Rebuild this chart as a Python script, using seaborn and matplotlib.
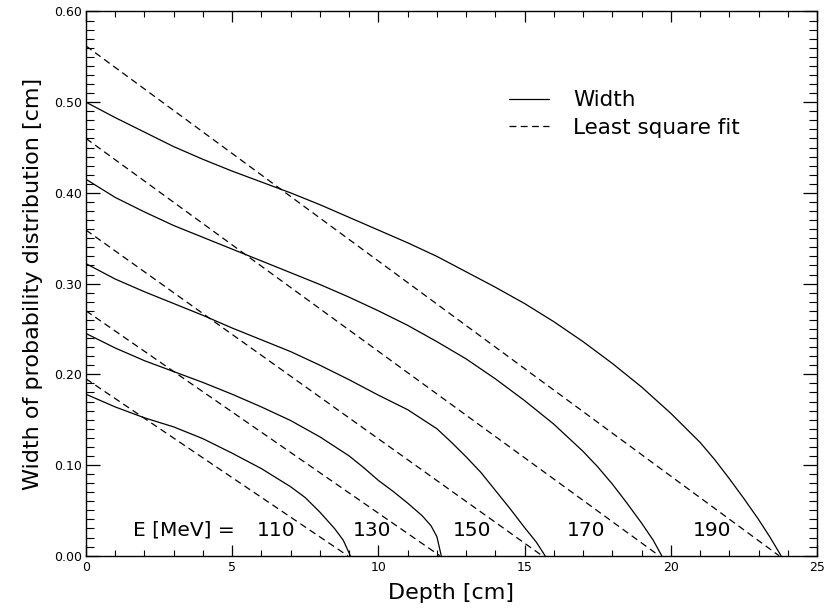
import matplotlib
matplotlib.use("Agg")
import matplotlib.pyplot as plt
from matplotlib.lines import Line2D
from matplotlib.ticker import MultipleLocator, FormatStrFormatter
import seaborn as sns
import pandas as pd

# beam energies [MeV]
energies = [110, 130, 150, 170, 190]

# width of the probability distribution along depth, one curve per energy
depth_110 = [0, 1, 2, 3, 4, 5, 6, 7, 7.5, 8, 8.5, 8.8, 9.04]
width_110 = [0.178, 0.164, 0.152, 0.142, 0.129, 0.113, 0.096, 0.076, 0.064, 0.048, 0.030,
             0.017, 0.0]

depth_130 = [0, 1, 2, 3, 4, 5, 6, 7, 8, 9, 9.5, 10, 10.5, 11, 11.5, 11.8, 12.0, 12.15]
width_130 = [0.245, 0.229, 0.215, 0.203, 0.191, 0.178, 0.164, 0.149, 0.131, 0.110, 0.097,
             0.083, 0.071, 0.058, 0.044, 0.033, 0.021, 0.0]

depth_150 = [0, 1, 2, 3, 4, 5, 6, 7, 8, 9, 10, 11, 12, 12.5, 13, 13.5, 14, 14.5, 15, 15.4, 15.7]
width_150 = [0.322, 0.305, 0.291, 0.278, 0.265, 0.251, 0.238, 0.225, 0.210, 0.194, 0.177,
             0.161, 0.140, 0.125, 0.109, 0.092, 0.072, 0.052, 0.031, 0.015, 0.0]

depth_170 = [0, 1, 2, 3, 4, 5, 6, 7, 8, 9, 10, 11, 12, 13, 14, 15, 16, 17, 17.5, 18, 18.5,
             19, 19.4, 19.69]
width_170 = [0.415, 0.395, 0.379, 0.364, 0.351, 0.338, 0.325, 0.312, 0.299, 0.285, 0.270,
             0.254, 0.236, 0.217, 0.195, 0.171, 0.145, 0.115, 0.098, 0.079, 0.058, 0.036,
             0.017, 0.0]

depth_190 = [0, 1, 2, 3, 4, 5, 6, 7, 8, 9, 10, 11, 12, 13, 14, 15, 16, 17, 18, 19, 20, 21,
             21.5, 22, 22.5, 23, 23.4, 23.77]
width_190 = [0.500, 0.483, 0.467, 0.451, 0.437, 0.424, 0.412, 0.400, 0.387, 0.373, 0.359,
             0.345, 0.330, 0.313, 0.296, 0.278, 0.258, 0.236, 0.212, 0.186, 0.157, 0.125,
             0.106, 0.085, 0.063, 0.040, 0.020, 0.0]

# least square fit lines: width at depth 0 and depth where the fit reaches 0
fit_intercept = [0.195, 0.270, 0.359, 0.460, 0.562]
fit_range = [8.95, 12.1, 15.6, 19.6, 23.7]

x_ticks = [0, 5, 10, 15, 20, 25]
y_ticks = [0.0, 0.1, 0.2, 0.3, 0.4, 0.5, 0.6]

depths = [depth_110, depth_130, depth_150, depth_170, depth_190]
widths = [width_110, width_130, width_150, width_170, width_190]

rows = []
for e, d, w in zip(energies, depths, widths):
    for xi, yi in zip(d, w):
        rows.append({"energy": e, "depth": xi, "width": yi, "kind": "Width"})
for e, b, r in zip(energies, fit_intercept, fit_range):
    rows.append({"energy": e, "depth": 0.0, "width": b, "kind": "Least square fit"})
    rows.append({"energy": e, "depth": r, "width": 0.0, "kind": "Least square fit"})
df = pd.DataFrame(rows)

sns.set_style("ticks")
plt.rcParams["font.family"] = ["DejaVu Sans"]
plt.rcParams["text.color"] = "black"
plt.rcParams["axes.labelcolor"] = "black"

fig = plt.figure(figsize=(8.26, 6.11), dpi=100)
ax = fig.add_axes([0.1041, 0.0905, 0.8850, 0.8907])

dash = (5.5, 3.5)
sns.lineplot(df, x="depth", y="width", units="energy", style="kind", estimator=None,
             sort=False, color="black", linewidth=0.9,
             dashes={"Width": "", "Least square fit": dash}, legend=False, ax=ax)

ax.set_xlim(0, 25)
ax.set_ylim(0, 0.6)
ax.set_xticks(x_ticks)
ax.set_yticks(y_ticks)
ax.xaxis.set_minor_locator(MultipleLocator(1))
ax.yaxis.set_minor_locator(MultipleLocator(0.01))
ax.yaxis.set_major_formatter(FormatStrFormatter("%.2f"))
ax.xaxis.set_major_formatter(FormatStrFormatter("%d"))

for s in ax.spines.values():
    s.set_visible(True)
    s.set_color("black")
    s.set_linewidth(1.0)

ax.tick_params(axis="both", which="both", direction="in", top=True, right=True,
               colors="black", labelsize=9)
ax.tick_params(axis="x", which="major", length=8, width=0.9, pad=4)
ax.tick_params(axis="x", which="minor", length=4, width=0.8)
ax.tick_params(axis="y", which="major", length=10, width=0.9, pad=3)
ax.tick_params(axis="y", which="minor", length=6, width=0.8)

ax.set_xlabel("Depth [cm]", fontsize=16, labelpad=6)
ax.set_ylabel("Width of probability distribution [cm]", fontsize=16, labelpad=8)

# energy labels along the bottom
ax.text(3.36, 0.028, "E [MeV] =", fontsize=14.5, ha="center", va="center")
label_x = [6.5, 9.77, 13.2, 17.1, 21.4]
for e, lx in zip(energies, label_x):
    ax.text(lx, 0.028, str(e), fontsize=14.5, ha="center", va="center")

handles = [Line2D([], [], color="black", lw=0.9),
           Line2D([], [], color="black", lw=0.9, ls=(0, dash))]
ax.legend(handles, ["Width", "Least square fit"], loc="upper left",
          bbox_to_anchor=(0.578, 0.855), frameon=False, fontsize=15.5,
          handlelength=1.9, handletextpad=1.1, labelspacing=0.35, borderpad=0,
          borderaxespad=0)

fig.savefig("out.png", dpi=100)
